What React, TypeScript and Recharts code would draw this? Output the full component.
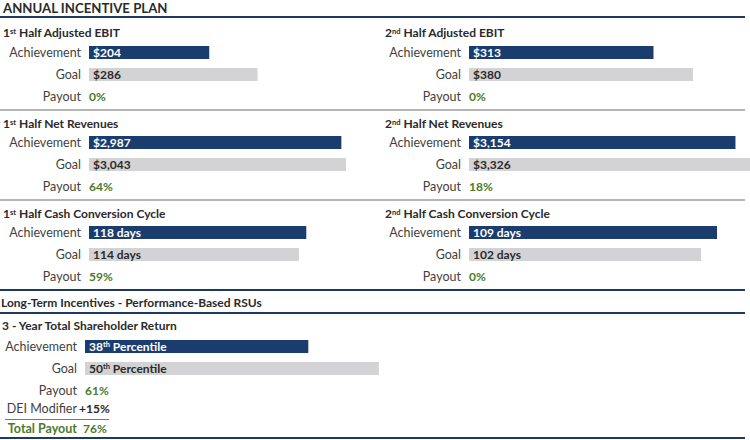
import React from 'react';
import { BarChart, Bar, XAxis, YAxis, Cell, LabelList } from 'recharts';

// ---- data ----
const rowLabels = ['Achievement', 'Goal', 'Payout'];

const ebitH1Values = [204, 286, 0];
const ebitH1Labels = ['$204', '$286', '0%'];
const ebitH2Values = [313, 380, 0];
const ebitH2Labels = ['$313', '$380', '0%'];
const revH1Values = [2987, 3043, 0];
const revH1Labels = ['$2,987', '$3,043', '64%'];
const revH2Values = [3154, 3326, 0];
const revH2Labels = ['$3,154', '$3,326', '18%'];
const cccH1Values = [118, 114, 0];
const cccH1Labels = ['118 days', '114 days', '59%'];
const cccH2Values = [109, 102, 0];
const cccH2Labels = ['109 days', '102 days', '0%'];
const tsrValues = [38, 50, 0];
const tsrLabels = ['38th Percentile', '50th Percentile', '61%'];
const deiModifier = '+15%';
const totalPayout = '76%';

// ---- style ----
const FONT = 'Lato, "Open Sans", sans-serif';
const NAVY = '#1b3d6d';
const LINE_NAVY = '#1e3a60';
const GRAY = '#d3d3d5';
const GREEN = '#4a7a2c';
const TEXT = '#3f3f3f';
const DARK = '#2a2a2a';

const renderBarLabel = (props: any) => {
  const { x, y, height, index, value } = props;
  const isPayout = index === 2;
  const fill = isPayout ? GREEN : index === 0 ? '#ffffff' : DARK;
  const str = String(value);
  const m = str.match(/^(\d+)(st|nd|rd|th)(.*)$/);
  return (
    <text
      x={Number(x) + (isPayout ? 0 : 4)}
      y={Number(y) + Number(height) / 2}
      dy="0.36em"
      fill={fill}
      fontFamily={FONT}
      fontWeight={700}
      fontSize={12}
    >
      {m ? (
        <>
          {m[1]}
          <tspan fontSize={7.5} dy="-0.55em">{m[2]}</tspan>
          <tspan dy="0.32em">{m[3]}</tspan>
        </>
      ) : (
        str
      )}
    </text>
  );
};

const CategoryTick = (props: any) => {
  const { x, y, payload } = props;
  return (
    <text x={x} y={y} dy="0.37em" textAnchor="end" fill={TEXT} fontFamily={FONT} fontSize={12.5}>
      {payload.value}
    </text>
  );
};

function Panel(props: {
  left: number;
  top: number;
  width: number;
  axisWidth: number;
  domainMax: number;
  values: number[];
  labels: string[];
}) {
  const { left, top, width, axisWidth, domainMax, values, labels } = props;
  const data = rowLabels.map((name, i) => ({ name, value: values[i], label: labels[i] }));
  return (
    <div style={{ position: 'absolute', left, top }}>
      <BarChart
        width={width}
        height={66}
        data={data}
        layout="vertical"
        margin={{ top: 0, right: 0, bottom: 0, left: 0 }}
        barCategoryGap={0}
      >
        <XAxis type="number" domain={[0, domainMax]} hide />
        <YAxis
          type="category"
          dataKey="name"
          width={axisWidth}
          axisLine={false}
          tickLine={false}
          interval={0}
          tick={<CategoryTick />}
        />
        <Bar dataKey="value" barSize={13} minPointSize={1} isAnimationActive={false}>
          {data.map((d, i) => (
            <Cell key={d.name} fill={i === 0 ? NAVY : i === 1 ? GRAY : 'transparent'} />
          ))}
          <LabelList dataKey="label" content={renderBarLabel} />
        </Bar>
      </BarChart>
    </div>
  );
}

function Txt(props: {
  x: number;
  cy: number;
  children: React.ReactNode;
  bold?: boolean;
  color?: string;
  size?: number;
  align?: 'left' | 'right';
}) {
  const { x, cy, children, bold, color, size = 12, align = 'left' } = props;
  const style: React.CSSProperties = {
    position: 'absolute',
    top: cy - 8,
    lineHeight: '16px',
    height: 16,
    fontSize: size,
    fontFamily: FONT,
    fontWeight: bold ? 700 : 400,
    color: color || TEXT,
    whiteSpace: 'nowrap',
  };
  if (align === 'right') style.right = 750 - x;
  else style.left = x;
  return <div style={style}>{children}</div>;
}

const Sup = ({ children }: { children: React.ReactNode }) => (
  <span style={{ fontSize: 7.5, verticalAlign: 'top', position: 'relative', top: -1, marginRight: 3 }}>{children}</span>
);

function HLine({ y, x1 = 0, x2 = 745, h = 2, color = LINE_NAVY }: any) {
  return <div style={{ position: 'absolute', left: x1, top: y, width: x2 - x1, height: h, background: color }} />;
}

export default function App() {
  return (
    <div
      style={{
        position: 'absolute',
        left: 0,
        top: 0,
        width: 750,
        height: 440,
        background: '#ffffff',
        overflow: 'hidden',
        fontFamily: FONT,
      }}
    >
      <Txt x={3} cy={8} bold color={DARK} size={13.2}>ANNUAL INCENTIVE PLAN</Txt>
      <HLine y={16} />

      {/* Row 1 */}
      <Txt x={3} cy={33} bold color={DARK}>1<Sup>st</Sup>Half Adjusted EBIT</Txt>
      <Txt x={385} cy={33} bold color={DARK}>2<Sup>nd</Sup>Half Adjusted EBIT</Txt>
      <Panel left={0} top={41} width={370} axisWidth={89} domainMax={476.7} values={ebitH1Values} labels={ebitH1Labels} />
      <Panel left={380} top={41} width={370} axisWidth={89} domainMax={476.7} values={ebitH2Values} labels={ebitH2Labels} />
      <HLine y={109} h={2} color="#b5b5b5" />

      {/* Row 2 */}
      <Txt x={3} cy={124} bold color={DARK}>1<Sup>st</Sup>Half Net Revenues</Txt>
      <Txt x={385} cy={124} bold color={DARK}>2<Sup>nd</Sup>Half Net Revenues</Txt>
      <Panel left={0} top={131} width={370} axisWidth={89} domainMax={3326} values={revH1Values} labels={revH1Labels} />
      <Panel left={380} top={131} width={370} axisWidth={89} domainMax={3326} values={revH2Values} labels={revH2Labels} />
      <HLine y={199} h={2} color="#b5b5b5" />

      {/* Row 3 */}
      <Txt x={3} cy={214} bold color={DARK}>1<Sup>st</Sup>Half Cash Conversion Cycle</Txt>
      <Txt x={385} cy={214} bold color={DARK}>2<Sup>nd</Sup>Half Cash Conversion Cycle</Txt>
      <Panel left={0} top={221} width={370} axisWidth={89} domainMax={152.6} values={cccH1Values} labels={cccH1Labels} />
      <Panel left={380} top={221} width={370} axisWidth={89} domainMax={123.5} values={cccH2Values} labels={cccH2Labels} />
      <HLine y={289} />

      {/* LTI */}
      <Txt x={1} cy={303} bold color={DARK}>Long-Term Incentives - Performance-Based RSUs</Txt>
      <HLine y={312} />
      <Txt x={2} cy={326} bold color={DARK}>3 - Year Total Shareholder Return</Txt>
      <Panel left={0} top={335} width={400} axisWidth={85} domainMax={53.6} values={tsrValues} labels={tsrLabels} />

      <Txt x={77} cy={409} align="right" size={12.5}>DEI Modifier</Txt>
      <Txt x={79} cy={409} bold color={DARK}>{deiModifier}</Txt>
      <HLine y={419} x1={5} x2={109} h={1} color="#777" />
      <Txt x={77} cy={429} align="right" bold color={GREEN} size={12.5}>Total Payout</Txt>
      <Txt x={83} cy={429} bold color={GREEN}>{totalPayout}</Txt>
      <HLine y={437} />
    </div>
  );
}
